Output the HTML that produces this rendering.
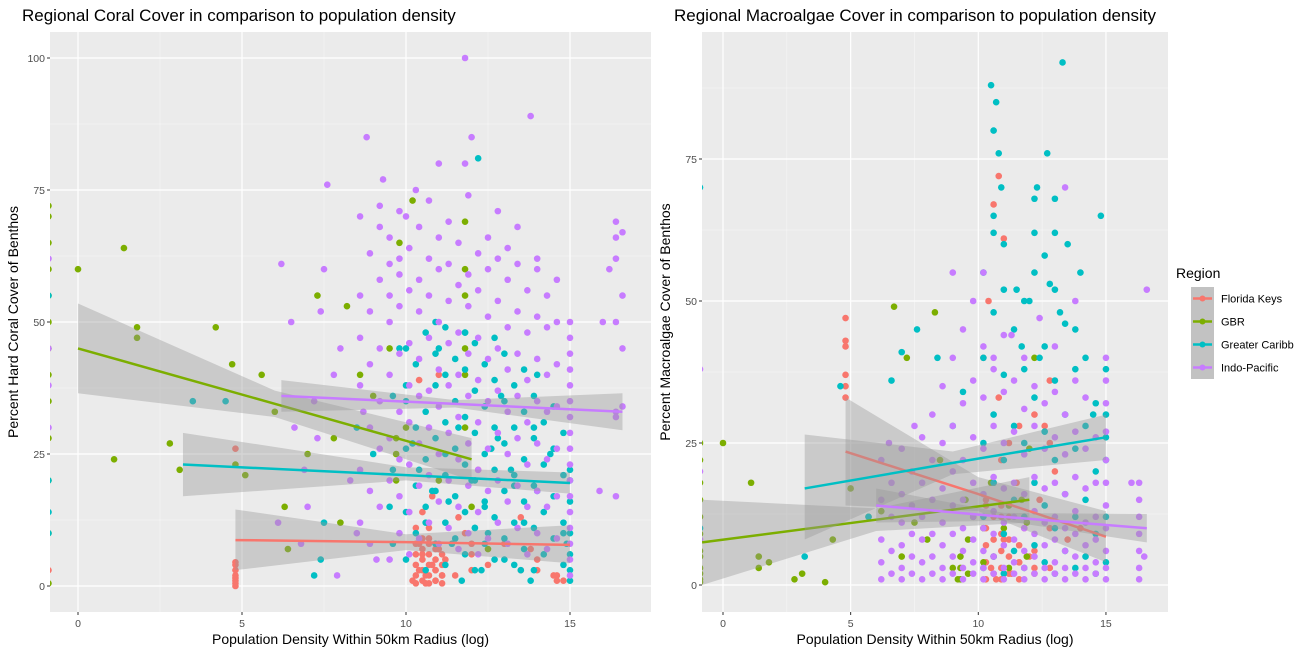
<!DOCTYPE html>
<html><head><meta charset="utf-8"><style>
body{margin:0;background:#fff;font-family:"Liberation Sans",Arial,sans-serif}
svg{display:block}
</style></head><body>
<svg id="c" width="1315" height="655" xmlns="http://www.w3.org/2000/svg"></svg>
<script>
// ---- data ----
const regions = ["Florida Keys","GBR","Greater Caribb","Indo-Pacific"];
const colors = ["#F8766D","#7CAE00","#00BFC4","#C77CFF"];
const xTicks = [0,5,10,15];
const coralYTicks = [0,25,50,75,100];
const macroYTicks = [0,25,50,75];

const coralFK = [[10.2,1],[10.4,3],[10.5,6],[10.6,2],[10.7,9],[10.8,4],[10.9,1],[11,7],[10.3,11],[10.5,14],[10.8,17],[11.2,5],[11.5,2],[11.8,10],[12,6],[12.5,4],[13,8],[13.5,13],[14,3],[14.5,2],[14.8,1],[4.8,0],[4.8,2],[4.8,4],[4.8,1],[4.8,26],[12.2,22],[11.6,13],[13.8,7],[-0.9,3],[10.4,39],[11,40],[10.6,0.5],[10.9,3],[11.1,2],[10.4,8]];
const coralGBR = [[-0.9,72],[-0.9,65],[-0.9,50],[-0.9,28],[-0.9,0.5],[0,60],[1.1,24],[1.4,64],[1.8,49],[1.8,47],[2.8,27],[3.1,22],[4.2,49],[4.7,42],[4.8,23],[5.1,21],[5.6,40],[6,33],[6.3,15],[6.4,7],[7,25],[7.3,55],[7.8,28],[8.2,53],[8.6,40],[9,36],[9.5,45],[10,30],[10.2,73],[11,20],[11.8,69],[12,15],[12.5,7],[8,12],[9.8,65]];
const coralGC = [[10,35],[10.4,22],[10.8,18],[11.2,25],[11.6,30],[12,20],[12.4,15],[12.8,28],[13.2,22],[13.6,12],[14,18],[14.4,25],[14.8,10],[11,45],[11.8,48],[12.2,81],[12.5,10],[13,5],[13.5,3],[14,40],[10.6,12],[11.4,8],[9.5,15],[9,25],[8.5,30],[7.5,12],[7.2,2],[7.4,5],[15,3],[15,20],[14.9,8],[12.9,36],[10.9,50],[9.8,45],[11.7,1],[12.3,3],[13.8,1],[-0.9,55],[-0.9,20],[-0.9,14],[-0.9,10],[3.5,35],[4.5,35],[12.6,26],[13.9,30],[11.3,16],[12.1,11],[13.3,19],[10.2,27]];
const coralIP = [[9.5,55],[9.8,62],[10,70],[11,80],[11.8,80],[12,85],[13.8,89],[11.8,100],[8.8,85],[9.3,77],[10.3,75],[8,45],[7.5,60],[7.2,35],[6.5,50],[6.2,61],[7.6,76],[8.3,20],[7,15],[6.8,8],[7.9,2],[8.5,10],[9.1,5],[6.1,12],[7.3,28],[8.7,33],[6.6,30],[7.8,40],[6.9,22],[7.4,52],[16.2,60],[16,50],[15.9,18],[-0.9,62],[-0.9,45],[-0.9,30],[-0.9,38]];
const coralIPcols = [[8.6,[12,22,38,47,55,70]],[8.9,[8,18,30,42,52,63]],[9.2,[15,26,35,45,58,68,72]],[9.5,[5,20,28,40,50,61,66]],[9.8,[10,17,24,33,44,53,59,71]],[10.1,[6,14,23,31,38,46,56,64]],[10.4,[9,19,27,36,43,52,58,68]],[10.7,[12,21,30,37,47,55,62,73]],[11.0,[8,16,25,34,41,50,60,66]],[11.3,[11,20,29,38,46,54,61,69]],[11.6,[7,15,24,32,40,48,57,65]],[11.9,[10,19,27,36,44,53,59,74]],[12.2,[6,14,22,31,39,47,56,63]],[12.5,[9,18,26,35,43,51,60,66]],[12.8,[12,20,29,37,45,54,62,71]],[13.1,[8,16,25,33,41,49,58,64]],[13.4,[11,19,28,36,44,52,61,68]],[13.7,[6,15,23,31,39,48,56]],[14.0,[10,18,27,35,43,51,60,62]],[14.3,[7,15,24,33,40,49,55]],[14.6,[9,17,26,34,42,50,58]],[15.0,[2,5,8,11,14,17,20,23,26,29,32,35,38,41,44,47,50]],[16.4,[17,32,33,50,62,66,69]],[16.6,[34,45,55,67]]];
const coralGCcols = [[9.6,[8,22,36]],[10.0,[5,14,26,38,45]],[10.3,[10,19,30,42]],[10.6,[3,15,24,33,48]],[10.9,[8,18,28,38,44]],[11.2,[4,12,21,31,40,49]],[11.5,[9,17,26,35,43]],[11.8,[6,14,23,32,41,48]],[12.1,[3,11,20,29,37,46]],[12.4,[8,16,25,34,42]],[12.7,[5,13,22,30,39,47]],[13.0,[9,18,27,35,44]],[13.3,[4,12,21,30,38]],[13.6,[7,16,24,33,41]],[13.9,[3,11,19,28,36]],[14.2,[6,14,23,31]],[14.5,[9,17,26,34]],[14.8,[4,12,21,29]],[15.0,[1,6,10,16,22]]];
const coralFKcols = [[10.3,[0.5,2,4,6,8]],[10.5,[1,3,5,7,9]],[10.7,[0.5,2,4,6,8,11]],[10.9,[1,3,5,7]],[11.1,[0.5,2,4,6]],[4.8,[0.5,1.5,3,4.5]],[12,[8,3]],[13.5,[3]],[14,[5]],[14.6,[2,1]]];
const coralGBRcols = [[-0.9,[10,20,35,40,45,55,60,70]],[11.8,[40,45,55,60,30]],[9.7,[20,25,28]]];

const macroFK = [[4.8,47],[4.8,43],[4.8,42],[4.8,37],[4.8,35],[4.8,33],[10.8,72],[11,61],[10.6,67],[10.4,50],[10.2,40],[10.8,33],[11.2,25],[11.5,18],[11.8,10],[12,5],[12.4,15],[12.8,36],[13,20],[10.5,3],[10.7,1],[11,8],[10.9,12],[11.3,2],[12.2,3],[13.5,8],[14,10],[12.6,28],[10.3,14],[11.6,4]];
const macroGBR = [[-0.9,25],[-0.9,15],[-0.9,5],[-0.9,0.5],[0,25],[1.1,18],[1.4,5],[1.4,3],[1.8,4],[2.8,1],[3.1,2],[4,0.5],[4.3,8],[5,17],[5.7,12],[6.2,13],[6.7,49],[7,5],[7.5,11],[8,8],[8.5,22],[9,3],[9.2,1],[9.8,12],[10.5,18],[11,10],[11.7,15],[12.2,40],[12,24],[7.2,40],[8.3,48],[9.5,15]];
const macroGC = [[10.5,88],[10.7,85],[10.8,76],[10.9,70],[11,60],[10.6,65],[13.3,92],[12.7,76],[12.3,70],[13,68],[12.2,62],[13.5,60],[14.8,65],[11.5,52],[12,50],[12.8,53],[13.2,48],[11.7,42],[12.4,40],[13.8,45],[14.5,30],[15,26],[9.4,34],[9,28],[8.4,40],[7.6,45],[7,41],[6.6,36],[5.7,12],[3.2,5],[4.6,35],[-0.9,70],[-0.9,10],[14,55]];
const macroIP = [[9,55],[9.8,50],[10.2,55],[13.4,70],[13.8,50],[16.6,52],[7.5,28],[6.5,25],[-0.9,38],[-0.9,20],[-0.9,8],[10.6,40],[11.3,44],[12.4,47],[16,18],[16.5,5]];
const macroIPcols = [[6.2,[1,4,8,15,22]],[6.6,[2,6,12,18]],[7.0,[1,3,7,11,16,24]],[7.4,[2,5,9,14,20]],[7.8,[1,4,8,12,18,26]],[8.2,[2,5,9,15,22,30]],[8.6,[1,3,7,11,17,25,35]],[9.0,[2,5,9,14,20,28,40]],[9.4,[1,3,6,10,15,22,32,45]],[9.8,[2,4,8,12,18,26,36]],[10.2,[1,3,6,10,16,24,33,42]],[10.6,[2,5,9,13,19,28,38]],[11.0,[1,3,7,11,17,25,34,44]],[11.4,[2,4,8,12,18,27,36]],[11.8,[1,3,6,10,16,23,31,40]],[12.2,[2,5,9,13,19,28,35]],[12.6,[1,3,7,11,17,24,32]],[13.0,[2,4,8,12,18,26,34,42]],[13.4,[1,3,6,10,16,23,30]],[13.8,[2,5,9,13,19,27,36]],[14.2,[1,3,7,11,17,24,33]],[14.6,[2,4,8,12,18,26]],[15.0,[1,3,6,10,14,18,22,27,32,36,40]],[16.3,[1,3,6,9,12,15,18]]];
const macroGCcols = [[10.2,[3,12,25,40,55]],[10.6,[5,18,30,48,62,80]],[11.0,[2,9,22,37,52]],[11.4,[6,15,28,45]],[11.8,[3,12,25,38,50]],[12.2,[7,18,33,55,68]],[12.6,[4,14,27,42,58]],[13.0,[2,10,22,36,52,62]],[13.4,[6,16,30,46]],[13.8,[3,12,24,38]],[14.2,[5,15,28,40]],[14.6,[2,9,20,32]],[15.0,[4,12,22,30,38]]];
const macroFKcols = [[10.3,[1,4,7,10,15]],[10.6,[2,5,8,12,18]],[10.9,[1,3,6,9,14,22]],[11.2,[2,5,8,12]],[11.6,[1,4,7,28]],[12.2,[2,6,30]],[12.8,[3,10,25]]];
const macroGBRcols = [[-0.9,[1,2,3,6,9,12,18,22]],[9.3,[1,3,5]],[9.6,[2,8]],[10.2,[4,10]],[11.2,[3,14]],[11.9,[5,11]]];

const coralFitX = [[4.8,10,15],[0,6,12],[3.2,10,15],[6.2,11.5,16.6]];
const coralFitY = [[8.7,8.3,7.8],[45,34.5,24],[23,21,19.5],[36,34.5,33]];
const coralFitLo = [[3,6.8,4.3],[36.5,32,20],[17,20,17.5],[33,33.8,29.5]];
const coralFitHi = [[14.5,9.8,11.5],[53.5,37,28],[29,22.5,21.5],[39,35.2,36.5]];
const macroFitX = [[4.8,10,15],[-0.82,6,12],[3.2,9,15],[6,11,16.6]];
const macroFitY = [[23.5,16,8.5],[7.5,11.5,15],[17,21.5,26],[14,12,10]];
const macroFitLo = [[14,13,4],[0,9.5,11],[8,19.5,22],[11,11.3,7.5]];
const macroFitHi = [[33,19,13],[15,13.5,19],[26.5,23.5,30],[17,12.7,12.5]];

// ---- drawing ----
const svg = document.getElementById('c');
const NS = 'http://www.w3.org/2000/svg';
function mk(tag, attrs, parent){const e=document.createElementNS(NS,tag);for(const k in attrs)e.setAttribute(k,attrs[k]);(parent||svg).appendChild(e);return e;}
function expand(pts, cols){const out=pts.slice();cols.forEach(c=>c[1].forEach(y=>out.push([c[0],y])));return out;}

function panel(cfg){
  const {L,R,T,B,x0,xpx,y0,ypx,yTicks,pts,fx,fy,flo,fhi,title,ytitle,key} = cfg;
  const sx = v => x0 + v*xpx, sy = v => y0 - v*ypx;
  const g = mk('g',{});
  
  
  const bg = mk('rect',{x:L,y:T,width:R-L,height:B-T,fill:'#EBEBEB'},g);
  
  
  const step = yTicks[1]-yTicks[0];
  const clipId = key+'clip';
  const cp = mk('clipPath',{id:clipId},g); mk('rect',{x:L,y:T,width:R-L,height:B-T},cp);
  for(let v=-2.5; v<=20; v+=5){const X=sx(v); if(X>L&&X<R) mk('line',{x1:X,x2:X,y1:T,y2:B,stroke:'#F7F7F7','stroke-width':0.6},g);}
  for(let v=-step/2; v<=yTicks[yTicks.length-1]+step; v+=step){const Y=sy(v); if(Y>T&&Y<B) mk('line',{x1:L,x2:R,y1:Y,y2:Y,stroke:'#F7F7F7','stroke-width':0.6},g);}
  xTicks.forEach(v=>{const X=sx(v);
    mk('line',{x1:X,x2:X,y1:T,y2:B,stroke:'#fff','stroke-width':1.2},g);
    mk('line',{x1:X,x2:X,y1:B,y2:B+3,stroke:'#333','stroke-width':1},g);
    const t=mk('text',{x:X,y:B+15,'text-anchor':'middle','font-size':10.5,fill:'#4D4D4D'},g);t.textContent=v;
    
    
  });
  yTicks.forEach(v=>{const Y=sy(v);
    mk('line',{x1:L,x2:R,y1:Y,y2:Y,stroke:'#fff','stroke-width':1.2},g);
    mk('line',{x1:L-3,x2:L,y1:Y,y2:Y,stroke:'#333','stroke-width':1},g);
    const t=mk('text',{x:L-5,y:Y+4,'text-anchor':'end','font-size':10.5,fill:'#4D4D4D'},g);t.textContent=v;
    
    
  });
  const pg = mk('g',{'clip-path':'url(#'+clipId+')'},g);
  pts.forEach((arr,i)=>arr.forEach(p=>{
    const c=mk('circle',{cx:sx(p[0]),cy:sy(p[1]),r:3.3,fill:colors[i]},pg);
    
    
  }));
  fx.forEach((xs,i)=>{
    let d='M'+xs.map((x,j)=>sx(x)+','+sy(fhi[i][j])).join(' L');
    d+=' L'+xs.slice().reverse().map((x,j)=>sx(x)+','+sy(flo[i][xs.length-1-j])).join(' L')+' Z';
    const rb=mk('path',{d:d,fill:'#999999','fill-opacity':0.4},pg);
    
    
    const ln=mk('polyline',{points:xs.map((x,j)=>sx(x)+','+sy(fy[i][j])).join(' '),fill:'none',stroke:colors[i],'stroke-width':2.5},pg);
    
    
  });
  const tt=mk('text',{x:L-28,y:21,'font-size':17,fill:'#000'},g);tt.textContent=title;
  
  
  const xt=mk('text',{x:(L+R)/2,y:B+32,'text-anchor':'middle','font-size':14,fill:'#000'},g);xt.textContent='Population Density Within 50km Radius (log)';
  
  
  const yx=L-32, yy=(T+B)/2;
  const yt=mk('text',{x:yx,y:yy,'text-anchor':'middle','font-size':14,fill:'#000',transform:'rotate(-90 '+yx+' '+yy+')'},g);yt.textContent=ytitle;
  
  
}

panel({key:'coral',L:50,R:651,T:32,B:612,x0:78,xpx:32.8,y0:586,ypx:5.28,yTicks:coralYTicks,
  pts:[expand(coralFK,coralFKcols),expand(coralGBR,coralGBRcols),expand(coralGC,coralGCcols),expand(coralIP,coralIPcols)],
  fx:coralFitX,fy:coralFitY,flo:coralFitLo,fhi:coralFitHi,
  title:'Regional Coral Cover in comparison to population density',ytitle:'Percent Hard Coral Cover of Benthos'});
panel({key:'macro',L:702,R:1168,T:32,B:612,x0:723,xpx:25.53,y0:585,ypx:5.68,yTicks:macroYTicks,
  pts:[expand(macroFK,macroFKcols),expand(macroGBR,macroGBRcols),expand(macroGC,macroGCcols),expand(macroIP,macroIPcols)],
  fx:macroFitX,fy:macroFitY,flo:macroFitLo,fhi:macroFitHi,
  title:'Regional Macroalgae Cover in comparison to population density',ytitle:'Percent Macroalgae Cover of Benthos'});

const lg = mk('g',{});


const lt=mk('text',{x:1176,y:278,'font-size':14,fill:'#000'},lg);lt.textContent='Region';


regions.forEach((r,i)=>{
  const y=287+i*23;
  mk('rect',{x:1191,y:y,width:23,height:23,fill:'#C2C2C2'},lg);
  mk('line',{x1:1193,x2:1212,y1:y+11.5,y2:y+11.5,stroke:colors[i],'stroke-width':2.5},lg);
  mk('circle',{cx:1202.5,cy:y+11.5,r:3,fill:colors[i]},lg);
  const t=mk('text',{x:1221,y:y+15.5,'font-size':11,fill:'#000'},lg);t.textContent=r;
  
  
});
</script>
</body></html>
